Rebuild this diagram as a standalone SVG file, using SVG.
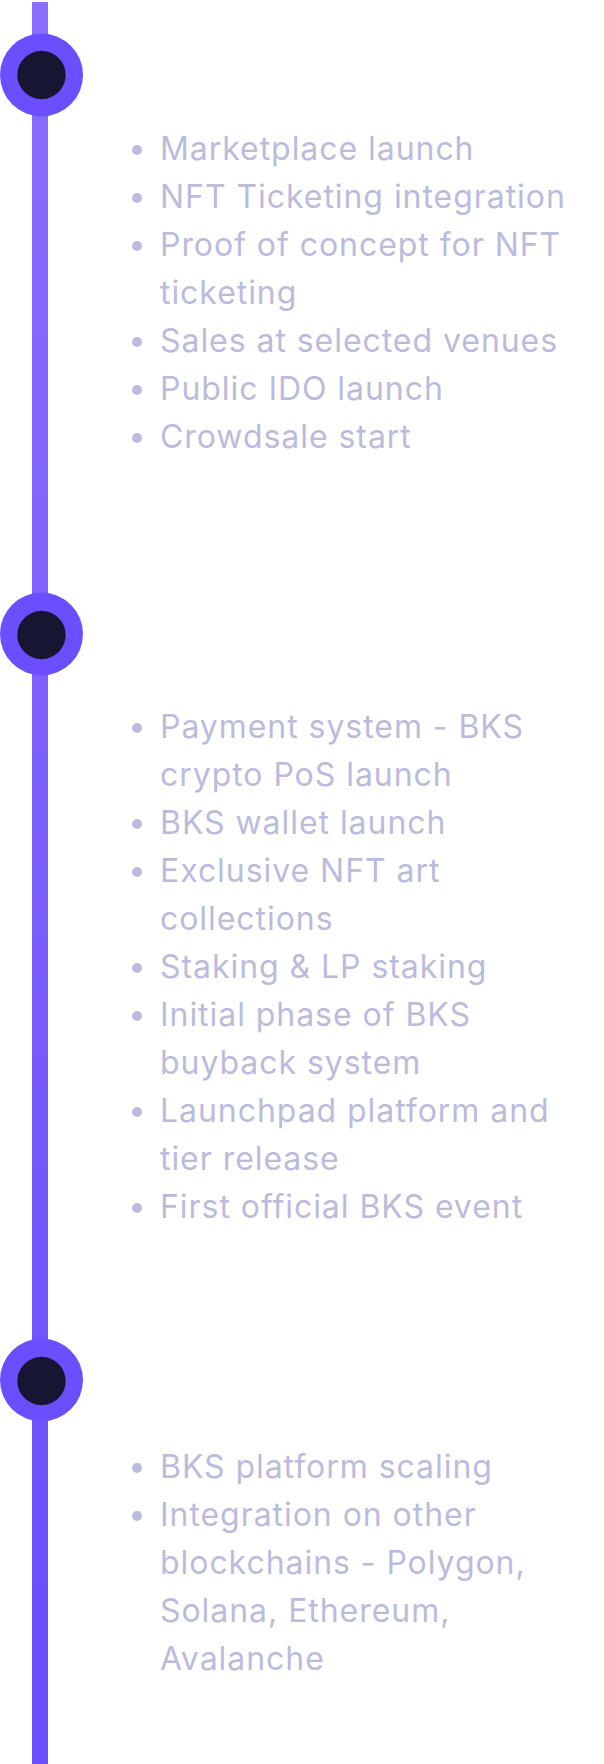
<svg xmlns="http://www.w3.org/2000/svg" width="604" height="1764" viewBox="0 0 604 1764">
<defs>
<linearGradient id="lineGrad" x1="0" y1="0" x2="0" y2="1">
<stop offset="0" stop-color="#8a6eff"/>
<stop offset="1" stop-color="#6b4cff"/>
</linearGradient>
</defs>
<style>
.outer{fill:#6b4fff}
.inner{fill:#161632}
.item{font-family:Inter,"Noto Sans",sans-serif;font-size:32px;fill:#bbbbdd;letter-spacing:0.95px}
.dot{fill:#bbbbdd}
</style>
<rect width="604" height="1764" fill="#ffffff"/>
<g id="connectors">
<rect x="32" y="2" width="16" height="1762" fill="url(#lineGrad)"/>
</g>
<g id="node1">
<circle class="outer" cx="41.5" cy="75" r="41.5"/>
<circle class="inner" cx="41.5" cy="75" r="24.2"/>
</g>
<g id="node2">
<circle class="outer" cx="41.5" cy="634" r="41.5"/>
<circle class="inner" cx="41.5" cy="635" r="24.2"/>
</g>
<g id="node3">
<circle class="outer" cx="41.5" cy="1380" r="41.5"/>
<circle class="inner" cx="41.5" cy="1381" r="24.2"/>
</g>
<g id="list1">
<circle class="dot" cx="137" cy="150" r="5"/>
<text class="item" x="160" y="160">Marketplace launch</text>
<circle class="dot" cx="137" cy="198" r="5"/>
<text class="item" x="160" y="208">NFT Ticketing integration</text>
<circle class="dot" cx="137" cy="246" r="5"/>
<text class="item" x="160" y="256">Proof of concept for NFT</text>
<text class="item" x="160" y="304">ticketing</text>
<circle class="dot" cx="137" cy="342" r="5"/>
<text class="item" x="160" y="352">Sales at selected venues</text>
<circle class="dot" cx="137" cy="390" r="5"/>
<text class="item" x="160" y="400">Public IDO launch</text>
<circle class="dot" cx="137" cy="438" r="5"/>
<text class="item" x="160" y="448">Crowdsale start</text>
</g>
<g id="list2">
<circle class="dot" cx="137" cy="728" r="5"/>
<text class="item" x="160" y="738">Payment system - BKS</text>
<text class="item" x="160" y="786">crypto PoS launch</text>
<circle class="dot" cx="137" cy="824" r="5"/>
<text class="item" x="160" y="834">BKS wallet launch</text>
<circle class="dot" cx="137" cy="872" r="5"/>
<text class="item" x="160" y="882">Exclusive NFT art</text>
<text class="item" x="160" y="930">collections</text>
<circle class="dot" cx="137" cy="968" r="5"/>
<text class="item" x="160" y="978">Staking &amp; LP staking</text>
<circle class="dot" cx="137" cy="1016" r="5"/>
<text class="item" x="160" y="1026">Initial phase of BKS</text>
<text class="item" x="160" y="1074">buyback system</text>
<circle class="dot" cx="137" cy="1112" r="5"/>
<text class="item" x="160" y="1122">Launchpad platform and</text>
<text class="item" x="160" y="1170">tier release</text>
<circle class="dot" cx="137" cy="1208" r="5"/>
<text class="item" x="160" y="1218">First official BKS event</text>
</g>
<g id="list3">
<circle class="dot" cx="137" cy="1468" r="5"/>
<text class="item" x="160" y="1478">BKS platform scaling</text>
<circle class="dot" cx="137" cy="1516" r="5"/>
<text class="item" x="160" y="1526">Integration on other</text>
<text class="item" x="160" y="1574">blockchains - Polygon,</text>
<text class="item" x="160" y="1622">Solana, Ethereum,</text>
<text class="item" x="160" y="1670">Avalanche</text>
</g>
</svg>
